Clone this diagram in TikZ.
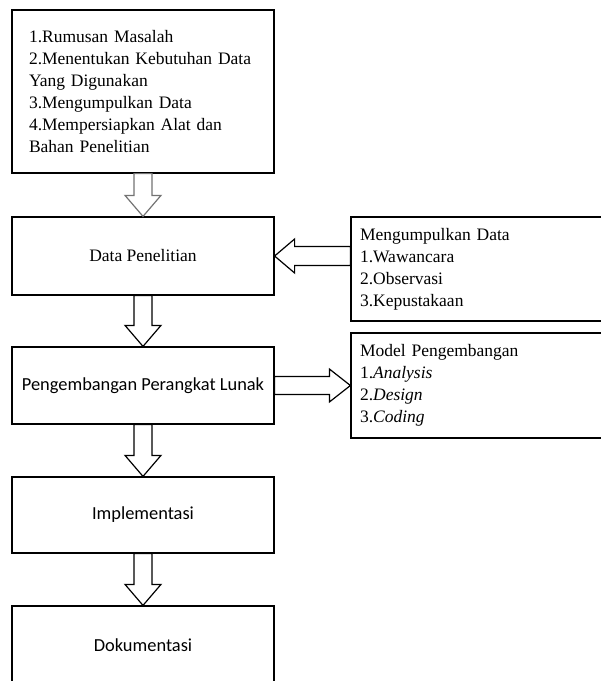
\documentclass[tikz,border=0pt]{standalone}
\usepackage{fontspec}
\setmainfont{Liberation Serif}
\newfontfamily\calibri{Carlito}
\usetikzlibrary{calc}
\begin{document}
\begin{tikzpicture}[x=1pt,y=-1pt,
  box/.style={draw,line width=1.2pt,minimum width=262pt,inner sep=0pt,font=\fontsize{17.5}{22}\selectfont},
  sansbox/.style={box,font=\calibri\fontsize{18.4}{22}\selectfont},
  sidebox/.style={draw,line width=1.2pt,minimum width=269pt,inner xsep=9pt,inner ysep=0pt,text width=251pt,align=left,font=\fontsize{17.5}{22}\selectfont},
  blockarrow/.style={draw,line width=1.2pt,fill=white,line join=miter},
  greyarrow/.style={draw=black!55,line width=1.2pt,fill=white,line join=miter}]
\useasboundingbox (0,0) rectangle (601,681);

\node[box,minimum height=163pt,inner xsep=17pt,text width=228pt,align=left] (top) at (143,91.5)
  {1.Rumusan Masalah\\2.Menentukan Kebutuhan Data\\Yang Digunakan\\3.Mengumpulkan Data\\4.Mempersiapkan Alat dan\\Bahan Penelitian};
\node[box,minimum height=78pt] (data) at (143,256) {Data Penelitian};
\node[sansbox,minimum height=77pt] (peng) at (143,385.5) {Pengembangan Perangkat Lunak};
\node[sansbox,minimum height=76pt] (impl) at (143,515) {Implementasi};
\node[sansbox,minimum height=78pt] (dok) at (143,645) {Dokumentasi};

\node[sidebox,minimum height=104pt] (kumpul) at (485.5,269)
  {Mengumpulkan Data\\1.Wawancara\\2.Observasi\\3.Kepustakaan};
\node[sidebox,minimum height=105pt] (model) at (485.5,385.5)
  {Model Pengembangan\\1.\textit{Analysis}\\2.\textit{Design}\\3.\textit{Coding}};

% vertical block arrows
\newcommand\blockdown[3]{%
  \path[#3] let \p1=(#1.south), \p2=(#2.north) in
    (\x1-9pt,\y1) -- (\x1-9pt,\y2+21pt) -- (\x1-18pt,\y2+21pt) -- (\x1,\y2)
    -- (\x1+18pt,\y2+21pt) -- (\x1+9pt,\y2+21pt) -- (\x1+9pt,\y1) -- cycle;}
\blockdown{top}{data}{greyarrow}
\blockdown{data}{peng}{blockarrow}
\blockdown{peng}{impl}{blockarrow}
\blockdown{impl}{dok}{blockarrow}

% from Mengumpulkan Data to Data Penelitian
\path[blockarrow] let \p1=(data.east), \p2=(kumpul.west) in
  (\x2,\y1+9.5pt) -- (\x1+20pt,\y1+9.5pt) -- (\x1+20pt,\y1+17pt) -- (\x1,\y1)
  -- (\x1+20pt,\y1-17pt) -- (\x1+20pt,\y1-9.5pt) -- (\x2,\y1-9.5pt) -- cycle;

% from Pengembangan Perangkat Lunak to Model Pengembangan
\path[blockarrow] let \p1=(peng.east), \p2=(model.west) in
  (\x1,\y1+9pt) -- (\x2-21pt,\y1+9pt) -- (\x2-21pt,\y1+16.5pt) -- (\x2,\y1)
  -- (\x2-21pt,\y1-16.5pt) -- (\x2-21pt,\y1-9pt) -- (\x1,\y1-9pt) -- cycle;
\end{tikzpicture}
\end{document}
